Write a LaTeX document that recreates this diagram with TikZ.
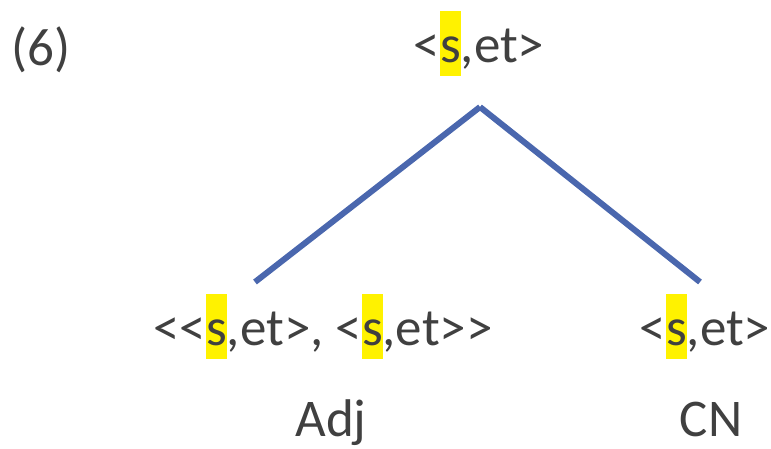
\documentclass[tikz,border=0pt]{standalone}
\usepackage{fontspec}
\setmainfont{Carlito}[Ligatures=ResetAll]
\definecolor{txt}{HTML}{404040}
\definecolor{branch}{HTML}{4A67AE}
\newcommand\hls[1]{\begingroup\setlength\fboxsep{0pt}\colorbox{yellow}{\rule[-14pt]{0pt}{65pt}#1}\endgroup}
\begin{document}
\begin{tikzpicture}[x=1pt,y=-1pt,
  lbl/.style={anchor=base,inner sep=0pt,text=txt,font=\fontsize{53}{60}\selectfont},
  edge/.style={draw=branch,line width=6pt}]
\useasboundingbox (0,0) rectangle (771,448);
\node[lbl] (num) at (41,65) {(6)};
\node[lbl] (root) at (479,62) {<\hls{s},et>};
\node[lbl] (adjtype) at (323,345) {<{}<\hls{s},et>, <\hls{s},et>{}>};
\node[lbl] (cntype) at (705,345) {<\hls{s},et>};
\node[lbl] (adj) at (331,436) {Adj};
\node[lbl] (cn) at (711,436) {CN};
\coordinate (apex) at (480,107);
\coordinate (lend) at (255,282);
\coordinate (rend) at (700,282);
\draw[edge] (apex) -- (lend);
\draw[edge] (apex) -- (rend);
\end{tikzpicture}
\end{document}
